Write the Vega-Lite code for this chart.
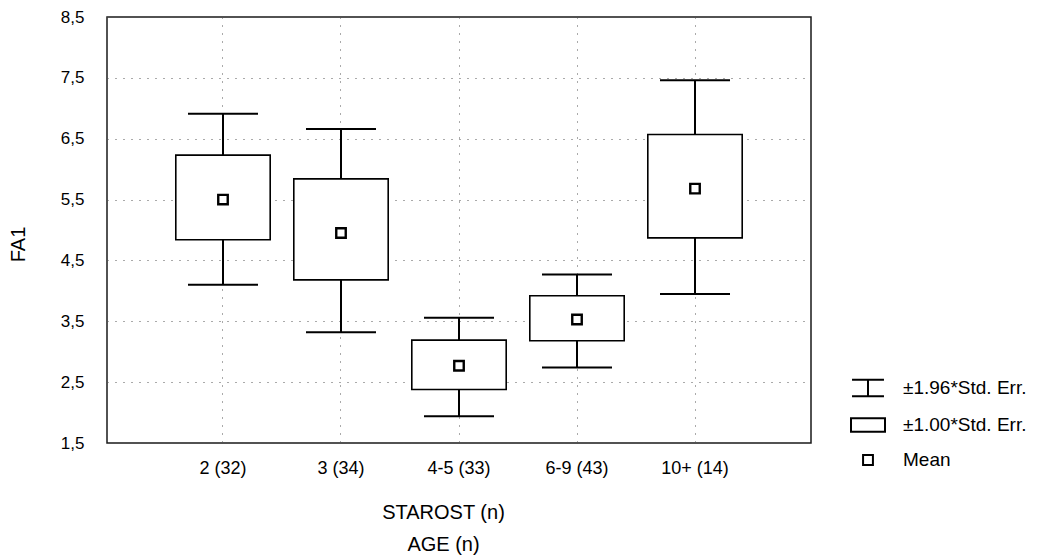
{
  "$schema": "https://vega.github.io/schema/vega-lite/v6.json",
  "width": 704,
  "height": 426,
  "autosize": {"type": "none"},
  "padding": {"left": 107, "top": 17, "right": 241, "bottom": 115},
  "background": "white",
  "config": {
    "view": {"stroke": "#1a1a1a", "strokeWidth": 1.5},
    "font": "Liberation Sans"
  },
  "datasets": {
    "stats": [
      {"group": "2 (32)", "mean": 5.50, "boxLo": 4.84, "boxHi": 6.23, "whiskLo": 4.10, "whiskHi": 6.91},
      {"group": "3 (34)", "mean": 4.95, "boxLo": 4.18, "boxHi": 5.84, "whiskLo": 3.32, "whiskHi": 6.66},
      {"group": "4-5 (33)", "mean": 2.77, "boxLo": 2.38, "boxHi": 3.19, "whiskLo": 1.94, "whiskHi": 3.56},
      {"group": "6-9 (43)", "mean": 3.53, "boxLo": 3.18, "boxHi": 3.92, "whiskLo": 2.74, "whiskHi": 4.27},
      {"group": "10+ (14)", "mean": 5.68, "boxLo": 4.87, "boxHi": 6.57, "whiskLo": 3.95, "whiskHi": 7.46}
    ],
    "legendItems": [
      {"item": "±1.96*Std. Err."},
      {"item": "±1.00*Std. Err."},
      {"item": "Mean"}
    ]
  },
  "encoding": {
    "x": {
      "field": "group",
      "type": "nominal",
      "sort": null,
      "scale": {"type": "band", "paddingInner": 0, "paddingOuter": 0.483},
      "axis": {
        "title": ["STAROST (n)", "AGE (n)"],
        "titleFont": "Liberation Sans",
        "titleFontSize": 20,
        "titleFontWeight": "normal",
        "titleColor": "black",
        "titleLineHeight": 32,
        "titleBaseline": "top",
        "titleX": 336,
        "titleY": 59,
        "labelAngle": 0,
        "labelFont": "Liberation Sans",
        "labelFontSize": 18,
        "labelColor": "black",
        "labelPadding": 16,
        "labelBaseline": "top",
        "ticks": false,
        "tickSize": 0,
        "domain": false,
        "grid": true,
        "gridColor": "#555555",
        "gridDash": [1, 7],
        "gridWidth": 1
      }
    }
  },
  "layer": [
    {
      "data": {"name": "stats"},
      "mark": {"type": "rule", "color": "black", "strokeWidth": 2},
      "encoding": {
        "y": {
          "field": "whiskLo",
          "type": "quantitative",
          "scale": {"domain": [1.5, 8.5], "nice": false, "zero": false},
          "axis": {
            "title": "FA1",
            "titleFont": "Liberation Sans",
            "titleFontSize": 20,
            "titleFontWeight": "normal",
            "titleColor": "black",
            "titleAngle": -90,
            "titleAlign": "center",
            "titleBaseline": "middle",
            "titleX": -89,
            "titleY": 227,
            "values": [1.5, 2.5, 3.5, 4.5, 5.5, 6.5, 7.5, 8.5],
            "labelExpr": "replace(format(datum.value, '.1f'), '.', ',')",
            "labelFont": "Liberation Sans",
            "labelFontSize": 17,
            "labelColor": "black",
            "labelPadding": 23,
            "ticks": false,
            "tickSize": 0,
            "domain": false,
            "grid": true,
            "gridColor": "#555555",
            "gridDash": [1, 7],
            "gridWidth": 1
          }
        },
        "y2": {"field": "whiskHi"}
      }
    },
    {
      "data": {"name": "stats"},
      "mark": {"type": "bar", "fill": "white", "stroke": "black", "strokeWidth": 1.6, "width": {"band": 0.8}},
      "encoding": {
        "y": {"field": "boxLo", "type": "quantitative"},
        "y2": {"field": "boxHi"}
      }
    },
    {
      "data": {"name": "stats"},
      "mark": {"type": "tick", "color": "black", "size": 70, "thickness": 2, "opacity": 1},
      "encoding": {
        "y": {"field": "whiskLo", "type": "quantitative"}
      }
    },
    {
      "data": {"name": "stats"},
      "mark": {"type": "tick", "color": "black", "size": 70, "thickness": 2, "opacity": 1},
      "encoding": {
        "y": {"field": "whiskHi", "type": "quantitative"}
      }
    },
    {
      "data": {"name": "stats"},
      "mark": {"type": "point", "shape": "square", "size": 90, "filled": false, "color": "black", "strokeWidth": 2.4, "opacity": 1},
      "encoding": {
        "y": {"field": "mean", "type": "quantitative"}
      }
    },
    {
      "data": {"name": "legendItems"},
      "mark": {"type": "point", "opacity": 0, "filled": false, "color": "black"},
      "encoding": {
        "x": {"value": 0},
        "y": {"value": 0},
        "shape": {
          "field": "item",
          "type": "nominal",
          "sort": null,
          "scale": {
            "domain": ["±1.96*Std. Err.", "±1.00*Std. Err.", "Mean"],
            "range": [
              "M-0.94,-0.49H0.94M0,-0.49V0.49M-0.94,0.49H0.94",
              "M-1,-0.39H1V0.39H-1Z",
              "M-0.29,-0.29H0.29V0.29H-0.29Z"
            ]
          },
          "legend": {
            "title": null,
            "orient": "none",
            "legendX": 743,
            "legendY": 353,
            "padding": 0,
            "symbolSize": 1156,
            "symbolStrokeColor": "black",
            "symbolFillColor": "transparent",
            "symbolStrokeWidth": 2,
            "symbolOpacity": 1,
            "rowPadding": 6,
            "labelOffset": 17,
            "labelFont": "Liberation Sans",
            "labelFontSize": 19,
            "labelColor": "black",
            "labelLimit": 300
          }
        }
      }
    }
  ]
}
